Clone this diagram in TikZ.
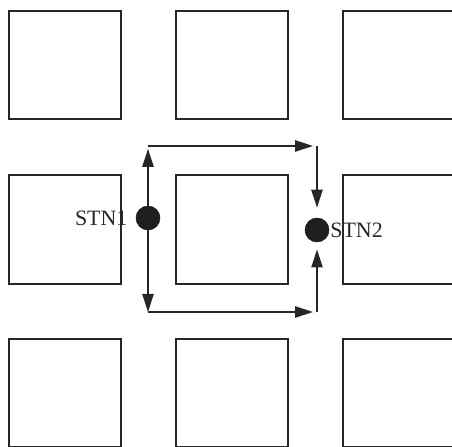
\documentclass[tikz,border=0pt]{standalone}
\usepackage{fontspec}
\setmainfont{Liberation Serif}
\usetikzlibrary{arrows.meta,positioning}
\tikzset{
  cell/.style={draw=black!85, line width=0.05cm, minimum width=2.78cm, minimum height=2.72cm, inner sep=0pt},
  stn/.style={circle, fill=black!88, draw=black!88, minimum size=0.6cm, inner sep=0pt},
  lbl/.style={font=\fontsize{15.6}{18}\selectfont, text=black!85, inner sep=0pt},
  flow/.style={-{Triangle[length=4.5mm, width=2.8mm]}, draw=black!85, line width=0.05cm},
}
\begin{document}
\begin{tikzpicture}
    \clip (0,0) rectangle (11.3,11.15);
    % grid of blocks
    \foreach \cx [count=\i] in {1.625,5.8,9.9625}
      \foreach \cy [count=\j] in {9.525,5.4125,1.325}
        \node[cell] (cell-\i-\j) at (\cx,\cy) {};
    \node[stn] (stn1) at (3.7,5.7) {};
    \node[stn] (stn2) at (7.925,5.4) {};
    \node[lbl, left=0.2cm of stn1] (stn1-lbl) {STN1};
    \node[lbl, right=0.02cm of stn2] (stn2-lbl) {STN2};
    \coordinate (tl) at (3.7,7.5);
    \coordinate (tr) at (7.925,7.5);
    \coordinate (bl) at (3.7,3.35);
    \coordinate (br) at (7.925,3.35);
    \draw[flow, shorten >=0.07cm] (stn1) -- (tl);
    \draw[flow] (stn1) -- (bl);
    \draw[flow, shorten >=0.1cm] (tl) -- (tr);
    \draw[flow, shorten >=0.1cm] (bl) -- (br);
    \draw[flow, shorten >=0.25cm] (tr) -- (stn2);
    \draw[flow, shorten >=0.18cm] (br) -- (stn2);
\end{tikzpicture}
\end{document}
